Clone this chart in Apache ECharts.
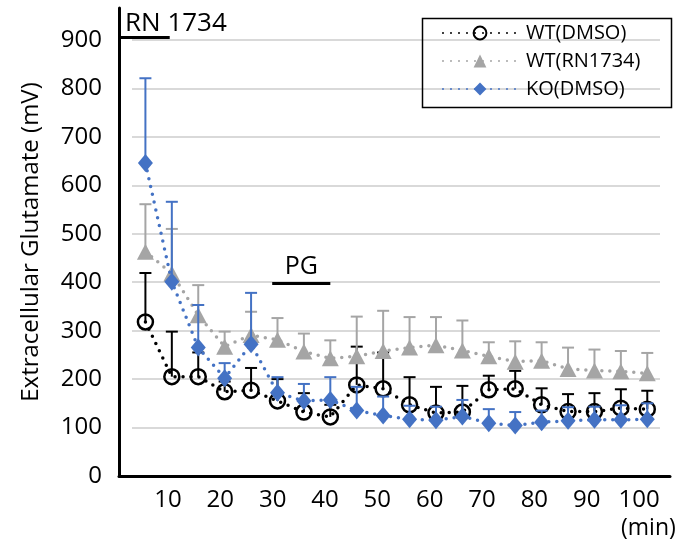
<!DOCTYPE html>
<html><head><meta charset="utf-8">
<script src="https://cdn.jsdelivr.net/npm/echarts@6/dist/echarts.min.js"></script>
<style>html,body{margin:0;padding:0;background:#fff}#c{width:698px;height:549px}</style>
</head><body><div id="c"></div>
<script>
// ---- data ----
const times = [5,10,15,20,25,30,35,40,45,50,55,60,65,70,75,80,85,90,95,100];
const xTickLabels = [10,20,30,40,50,60,70,80,90,100];
const yTickLabels = [0,100,200,300,400,500,600,700,800,900];
const seriesNames = ['WT(DMSO)','WT(RN1734)','KO(DMSO)'];
const wtDmso    = [318,205,205,174,177,155,132,122,188,180,147,130,132,178,180,147,133,133,140,138];
const wtDmsoErr = [101, 93, 50, 21, 46, 45, 39, 25, 79, 75, 57, 54, 54, 29, 37, 34, 36, 38, 39, 38];
const wtRn      = [463,418,332,267,291,281,257,243,247,258,265,270,259,247,236,238,221,218,216,212];
const wtRnErr   = [ 98, 92, 62, 31, 48, 45, 37, 37, 82, 83, 63, 58, 62, 29, 42, 38, 44, 43, 42, 42];
const koDmso    = [646,401,265,202,272,172,155,157,135,125,117,115,123,109,104,111,114,116,116,117];
const koDmsoErr = [175,165, 88, 31,106, 32, 35, 47, 49, 39, 28, 28, 34, 29, 28, 24, 28, 27, 30, 33];
const treatLabels = ['RN 1734','PG'];
const treatStart  = [0, 29];
const treatEnd    = [9.6, 40];
const treatLevel  = [905, 398];

// ---- chart ----
const FONT = 'Open Sans';
const colors = ['#000000','#a5a5a5','#4472c4'];
const means = [wtDmso, wtRn, koDmso];
const errs = [wtDmsoErr, wtRnErr, koDmsoErr];

function errRender(color){
  return function(params, api){
    const x = api.value(0), y = api.value(1), e = api.value(2);
    const p0 = api.coord([x, y]);
    const p1 = api.coord([x, y + e]);
    const hw = 6;
    return {type:'group', children:[
      {type:'line', shape:{x1:p0[0], y1:p0[1], x2:p1[0], y2:p1[1]}, style:{stroke:color, lineWidth:2}},
      {type:'line', shape:{x1:p1[0]-hw, y1:p1[1], x2:p1[0]+hw, y2:p1[1]}, style:{stroke:color, lineWidth:2}}
    ]};
  };
}

const symbols = [
  {symbol:'circle', symbolSize:15, itemStyle:{color:'rgba(255,255,255,0)', borderColor:'#000', borderWidth:2.5}},
  {symbol:'triangle', symbolSize:[17,16], itemStyle:{color:'#a5a5a5', borderWidth:0}},
  {symbol:'diamond', symbolSize:[15,18], itemStyle:{color:'#4472c4', borderWidth:0}}
];

const series = [];
for (let s = 0; s < 3; s++) {
  series.push({
    type:'custom', name:'err'+s, xAxisIndex:0, yAxisIndex:0, z:2+2*s,
    renderItem: errRender(colors[s]),
    encode:{x:0, y:1},
    data: times.map((t,i)=>[t, means[s][i], errs[s][i]]),
    silent:true
  });
  series.push(Object.assign({
    type:'line', name:seriesNames[s], xAxisIndex:0, yAxisIndex:0, z:3+2*s,
    data: times.map((t,i)=>[t, means[s][i]]),
    lineStyle:{color:colors[s], width:3.5, type:[0,8], cap:'round'},
    showAllSymbol:true,
    silent:true
  }, symbols[s]));
}
// treatment bars
series.push({
  type:'line', name:'treat', xAxisIndex:0, yAxisIndex:0, data:[], z:10, silent:true,
  markLine:{
    symbol:['none','none'], silent:true, animation:false,
    lineStyle:{color:'#000', width:3, type:'solid'},
    data: treatLabels.map((lab,i)=>[
      {coord:[treatStart[i], treatLevel[i]],
       label:{show:true, formatter:lab, position: i===0 ? 'insideStartTop' : 'insideMiddleTop',
              fontSize: i===0 ? 26 : 25, fontFamily:FONT, color:'#000', distance: i===0 ? [6,1] : 4}},
      {coord:[treatEnd[i], treatLevel[i]]}
    ])
  }
});

const option = {
  animation:false,
  backgroundColor:'#fff',
  textStyle:{fontFamily:FONT},
  title:{text:'(min)', left:616, top:512, textStyle:{fontSize:23, fontWeight:'normal', color:'#000', fontFamily:FONT}},
  graphic:[{type:'rect', left:420, top:16, z:100, silent:true,
            shape:{width:249, height:89},
            style:{fill:'none', stroke:'#000', lineWidth:1.5}}],
  legend:{
    data:seriesNames, orient:'vertical', left:420, top:16,
    itemWidth:74, itemHeight:16, itemGap:8,
    padding:[7,10,7,22], borderWidth:0,
    textStyle:{fontSize:20, color:'#000', fontFamily:FONT, padding:[0,0,0,4]}
  },
  grid:[
    {left:119, right:28, top:8, bottom:73, containLabel:false},
    {left:132, right:38, top:40, bottom:73, containLabel:false}
  ],
  xAxis:[
    {type:'value', gridIndex:0, min:0, max:104.3, position:'bottom',
     axisLine:{show:true, lineStyle:{color:'#000', width:3}}, axisTick:{show:false},
     axisLabel:{show:false}, splitLine:{show:false}},
    {type:'value', gridIndex:0, min:0.636, max:105.92, position:'bottom', offset:0,
     axisLine:{show:false}, axisTick:{show:false}, splitLine:{show:false},
     axisLabel:{show:true, customValues:xTickLabels, fontSize:24, color:'#000', margin:12, fontFamily:FONT}},
    {type:'value', gridIndex:1, min:0, max:100, show:false}
  ],
  yAxis:[
    {type:'value', gridIndex:0, min:0, max:966,
     name:'Extracellular Glutamate (mV)', nameLocation:'middle', nameGap:76,
     nameTextStyle:{fontSize:24, color:'#000', fontFamily:FONT},
     axisLine:{show:true, lineStyle:{color:'#000', width:3}}, axisTick:{show:false},
     splitLine:{show:false},
     axisLabel:{show:true, customValues:yTickLabels, fontSize:24, color:'#000', margin:17, fontFamily:FONT}},
    {type:'value', gridIndex:1, min:0, max:900, interval:100,
     axisLine:{show:false}, axisTick:{show:false}, axisLabel:{show:false},
     splitLine:{show:true, lineStyle:{color:'#d9d9d9', width:2}}}
  ],
  series: series
};
const chart = echarts.init(document.getElementById('c'));
chart.setOption(option);
</script></body></html>
